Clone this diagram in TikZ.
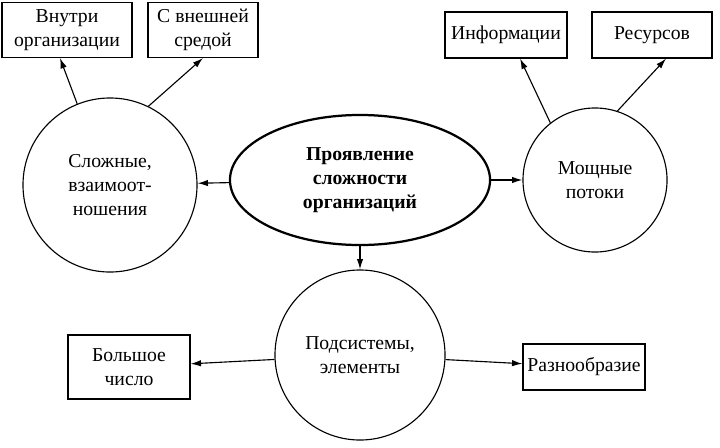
\documentclass[tikz,border=0pt]{standalone}
\usepackage{fontspec}
\setmainfont{Liberation Serif}
\usetikzlibrary{positioning}
\usetikzlibrary{shapes.geometric}
\usetikzlibrary{arrows.meta}

\tikzset{
  box/.style={draw, thick, align=center, inner sep=1pt, minimum height=1.15cm},
  circ/.style={draw, thick, circle, align=center},
  arr/.style={thick, -{Latex[length=2.6mm,width=1.6mm]}}
}

\begin{document}
\begin{tikzpicture}[x=0.025cm, y=-0.025cm, font=\fontsize{14}{17}\selectfont]
\useasboundingbox (0,0) rectangle (720,447);

% boxes at the top
\node[box, minimum width=3.25cm, minimum height=1.37cm] (inner) at (67,30) {Внутри\\организации};
\node[box, minimum width=2.75cm, minimum height=1.37cm] (outer) at (203,30) {С внешней\\средой};
\node[box, minimum width=3.05cm] (info) at (506,35) {Информации};
\node[box, minimum width=3.0cm] (res) at (652,35) {Ресурсов};

% circles and the centre
\node[circ, minimum size=4.35cm] (rel) at (110,185) {Сложные,\\взаимоот-\\ношения};
\node[draw, ultra thick, ellipse, minimum width=6.5cm, minimum height=3.25cm, align=center,
      font=\fontsize{14}{17}\selectfont\bfseries] (main) at (360,180) {Проявление\\сложности\\организаций};
\node[circ, minimum size=3.6cm] (flow) at (595,180) {Мощные\\потоки};
\node[circ, minimum size=4.25cm] (sub) at (360,355) {Подсистемы,\\элементы};

% boxes at the bottom
\node[box, minimum width=3.05cm, minimum height=1.6cm] (many) at (129,367) {Большое\\число};
\node[box, minimum width=3.05cm] (div) at (584,367) {Разнообразие};

% arrows
\draw[arr] (rel.112) -- ([xshift=-5]inner.south);
\draw[arr] (rel.64) -- (outer.south);
\draw[arr] (flow.128) -- ([xshift=10]info.south);
\draw[arr] (flow.72) -- ([xshift=10]res.south);
\draw[arr] (main) -- (rel);
\draw[arr] (main) -- (flow);
\draw[arr] (main) -- (sub);
\draw[arr] (sub) -- (many);
\draw[arr] (sub) -- (div);

\end{tikzpicture}
\end{document}
